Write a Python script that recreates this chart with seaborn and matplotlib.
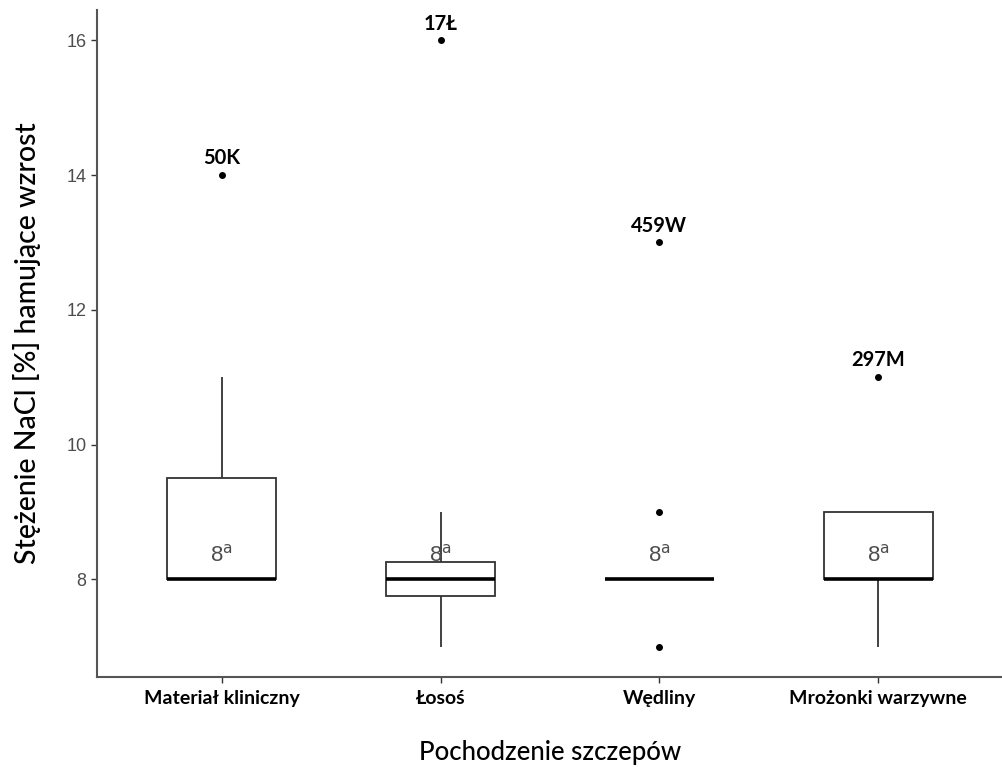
import matplotlib
matplotlib.use("Agg")
import matplotlib.pyplot as plt
import seaborn as sns
import pandas as pd

categories = ["Materiał kliniczny", "Łosoś", "Wędliny", "Mrożonki warzywne"]
kliniczny = [8, 8, 8, 8, 8, 8, 9, 9, 10, 11, 14]
losos = [7, 7, 8, 8, 8, 8, 9, 16]
wedliny = [7, 8, 8, 8, 8, 8, 8, 8, 9, 13]
mrozonki = [7, 8, 8, 8, 8, 9, 9, 9, 11]
series = [kliniczny, losos, wedliny, mrozonki]

outlier_labels = ["50K", "17Ł", "459W", "297M"]
outlier_values = [14, 16, 13, 11]
group_label = r"8$^{\mathrm{a}}$"
group_label_y = 8.36

rows = []
for cat, vals in zip(categories, series):
    for v in vals:
        rows.append({"cat": cat, "val": v})
df = pd.DataFrame(rows)

sns.set_theme(style="white")
plt.rcParams["font.family"] = ["Lato", "DejaVu Sans"]

fig = plt.figure(figsize=(10.03, 7.67), dpi=100)
ax = fig.add_axes([0.0967, 0.1173, 0.9033, 0.8697])

sns.boxplot(data=df, x="cat", y="val", order=categories, width=0.5,
            color="white", linecolor="#333333", linewidth=1.3,
            showcaps=False,
            medianprops=dict(color="black", linewidth=2.6),
            flierprops=dict(marker="o", markerfacecolor="black",
                            markeredgecolor="black", markersize=4),
            ax=ax)

for i, cat in enumerate(categories):
    ax.text(i, group_label_y, group_label, ha="center", va="center",
            fontsize=16, color="#4d4d4d", family=["Liberation Sans", "DejaVu Sans"],
            zorder=5)

for i, (lab, v) in enumerate(zip(outlier_labels, outlier_values)):
    ax.text(i, v + 0.1, lab, ha="center", va="bottom", fontsize=14.5,
            fontweight="bold", color="black", zorder=5)

ax.set_xlim(-0.57, 3.57)
ax.set_ylim(6.55, 16.45)
ax.set_yticks([8, 10, 12, 14, 16])
ax.tick_params(axis="y", labelsize=13, labelcolor="#4d4d4d", length=4,
               width=1, color="#333333", left=True)
ax.tick_params(axis="x", labelsize=14, length=4, width=1, color="#333333",
               bottom=True, pad=5)
for lbl in ax.get_yticklabels():
    lbl.set_family(["Liberation Sans", "DejaVu Sans"])
for lbl in ax.get_xticklabels():
    lbl.set_fontweight("bold")
    lbl.set_color("black")

ax.set_xlabel("Pochodzenie szczepów", fontsize=18.5, labelpad=24, color="black",
              fontweight="medium")
ax.set_ylabel("Stężenie NaCl [%] hamujące wzrost", fontsize=20.5, labelpad=18,
              color="black", fontweight="medium")

for s in ["top", "right"]:
    ax.spines[s].set_visible(False)
for s in ["left", "bottom"]:
    ax.spines[s].set_color("#555555")
    ax.spines[s].set_linewidth(1.5)

fig.savefig("out.png", dpi=100)
